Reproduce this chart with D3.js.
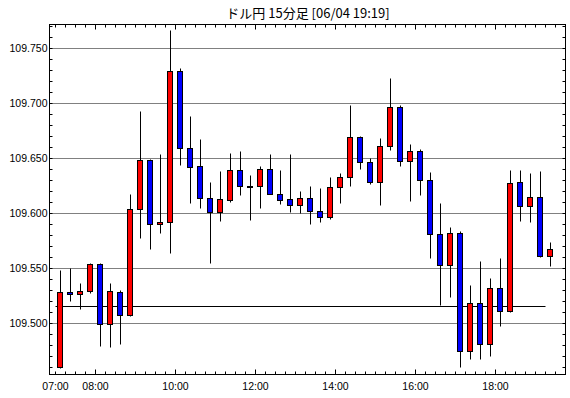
<!DOCTYPE html>
<html>
<head>
<meta charset="utf-8">
<script src="https://cdn.jsdelivr.net/npm/d3@7"></script>
<style>
html,body{margin:0;padding:0;background:#fff;}
svg{display:block;}
text{font-family:"Liberation Sans",Arial,sans-serif;}
</style>
</head>
<body>
<script>
const title = "ドル円 15分足 [06/04 19:19]";
const times = ["07:00","07:15","07:30","07:45","08:00","08:15","08:30","08:45","09:00","09:15",
"09:30","09:45","10:00","10:15","10:30","10:45","11:00","11:15","11:30","11:45",
"12:00","12:15","12:30","12:45","13:00","13:15","13:30","13:45","14:00","14:15",
"14:30","14:45","15:00","15:15","15:30","15:45","16:00","16:15","16:30","16:45",
"17:00","17:15","17:30","17:45","18:00","18:15","18:30","18:45","19:00","19:15"];
const opens = [109.460,109.528,109.526,109.529,109.554,109.499,109.528,109.507,109.604,109.648,
109.590,109.592,109.729,109.659,109.643,109.614,109.601,109.612,109.639,109.625,
109.625,109.640,109.617,109.613,109.607,109.614,109.602,109.596,109.624,109.633,
109.669,109.646,109.628,109.661,109.696,109.647,109.656,109.630,109.581,109.553,
109.582,109.475,109.518,109.481,109.532,109.511,109.628,109.606,109.615,109.561];
const highs = [109.548,109.550,109.536,109.555,109.555,109.536,109.530,109.617,109.693,109.649,
109.654,109.766,109.732,109.688,109.667,109.628,109.638,109.655,109.656,109.635,
109.643,109.654,109.639,109.654,109.620,109.625,109.623,109.633,109.636,109.698,
109.670,109.650,109.668,109.723,109.698,109.663,109.658,109.637,109.609,109.587,
109.584,109.535,109.556,109.541,109.559,109.639,109.639,109.636,109.638,109.574];
const lows = [109.459,109.520,109.513,109.527,109.479,109.478,109.481,109.506,109.577,109.567,
109.582,109.564,109.644,109.609,109.605,109.555,109.593,109.610,109.616,109.594,
109.605,109.617,109.608,109.601,109.600,109.590,109.592,109.595,109.609,109.625,
109.640,109.626,109.607,109.657,109.643,109.611,109.616,109.559,109.516,109.524,
109.460,109.467,109.467,109.470,109.497,109.510,109.593,109.592,109.560,109.552];
const closes = [109.528,109.526,109.529,109.554,109.499,109.529,109.507,109.604,109.648,109.590,
109.592,109.729,109.659,109.642,109.614,109.601,109.613,109.639,109.625,109.625,
109.640,109.617,109.612,109.607,109.614,109.602,109.596,109.624,109.633,109.669,
109.646,109.628,109.661,109.696,109.647,109.656,109.630,109.581,109.553,109.582,
109.475,109.518,109.481,109.532,109.511,109.627,109.606,109.615,109.561,109.567];
const refLevel = 109.5155;
const yTickLabels = [109.500,109.550,109.600,109.650,109.700,109.750];
const xTickLabels = ["07:00","08:00","10:00","12:00","14:00","16:00","18:00"];

const W = 570, H = 398;
const L = 49.5, R = 565.5, T = 24.5, B = 374.5;
const day = "2019-06-04T";
const parseT = s => new Date(day + s + ":00");

const x = d3.scaleTime().domain([parseT("06:51"), parseT("19:45")]).range([L, R]);
const y = d3.scaleLinear().domain([109.45364, 109.77182]).range([B, T]);
const sy = v => Math.round(y(v) - 0.5) + 0.5;
const sx = t => Math.round(x(t) - 0.5) + 0.5;

const svg = d3.select("body").append("svg").attr("width", W).attr("height", H);

// title
svg.append("text").attr("x", 308).attr("y", 18).attr("text-anchor", "middle")
  .style("font-family", '"Noto Sans CJK JP", sans-serif').style("font-size", "13px")
  .text(title);

// gridlines
svg.append("g").selectAll("line").data(yTickLabels).join("line")
  .attr("x1", L).attr("x2", R).attr("y1", d => sy(d)).attr("y2", d => sy(d))
  .attr("stroke", "#000").attr("stroke-width", 1).attr("stroke-dasharray", "1,1");

// y minor ticks (every 0.01)
const yTicks = d3.range(109460, 109771, 10).map(v => v / 1000);
const gy = svg.append("g");
gy.selectAll("line.l").data(yTicks).join("line").attr("class", "l")
  .attr("x1", L).attr("x2", L + 3).attr("y1", d => sy(d)).attr("y2", d => sy(d))
  .attr("stroke", "#000");
gy.selectAll("line.r").data(yTicks).join("line").attr("class", "r")
  .attr("x1", R - 3).attr("x2", R).attr("y1", d => sy(d)).attr("y2", d => sy(d))
  .attr("stroke", "#000");
gy.selectAll("text").data(yTickLabels).join("text")
  .attr("x", 47.5).attr("y", d => sy(d)).attr("dy", "0.35em").attr("text-anchor", "end")
  .style("font-size", "10.5px").text(d => d3.format(".3f")(d));

// x ticks every 15 min
const xTicks = d3.timeMinute.every(15).range(parseT("07:00"), parseT("19:45"));
const majors = new Set(xTickLabels.slice(1));
const isMajor = d => majors.has(d3.timeFormat("%H:%M")(d));
const gx = svg.append("g");
gx.selectAll("line.b").data(xTicks).join("line").attr("class", "b")
  .attr("x1", d => sx(d)).attr("x2", d => sx(d))
  .attr("y1", B).attr("y2", d => B - (isMajor(d) ? 5 : 3)).attr("stroke", "#000");
gx.selectAll("line.t").data(xTicks).join("line").attr("class", "t")
  .attr("x1", d => sx(d)).attr("x2", d => sx(d))
  .attr("y1", T).attr("y2", d => T + (isMajor(d) ? 5 : 3)).attr("stroke", "#000");
gx.selectAll("text").data(xTickLabels).join("text")
  .attr("x", d => sx(parseT(d))).attr("y", 389.5).attr("text-anchor", "middle")
  .style("font-size", "10.5px").text(d => d);

// reference line
svg.append("line")
  .attr("x1", sx(parseT("07:00"))).attr("x2", sx(parseT("19:15")))
  .attr("y1", sy(refLevel)).attr("y2", sy(refLevel))
  .attr("stroke", "#000").attr("stroke-width", 1);

// candles
const candles = times.map((t, i) => ({t: parseT(t), o: opens[i], h: highs[i], l: lows[i], c: closes[i]}));
const mid = d => sx(new Date(+d.t + 7.5 * 60000));
const cg = svg.append("g").selectAll("g").data(candles).join("g");
cg.append("line")
  .attr("x1", mid).attr("x2", mid)
  .attr("y1", d => sy(d.h)).attr("y2", d => sy(d.l))
  .attr("stroke", "#000").attr("stroke-width", 1);
cg.append("rect")
  .attr("x", d => mid(d) - 3)
  .attr("width", 5)
  .attr("y", d => sy(Math.max(d.o, d.c)))
  .attr("height", d => Math.max(1, sy(Math.min(d.o, d.c)) - sy(Math.max(d.o, d.c))))
  .attr("fill", d => d.c > d.o ? "#ff0000" : (d.c < d.o ? "#0000ff" : "#000"))
  .attr("stroke", "#000").attr("stroke-width", 1);

// frame
svg.append("rect").attr("x", L).attr("y", T).attr("width", R - L).attr("height", B - T)
  .attr("fill", "none").attr("stroke", "#000").attr("stroke-width", 1);
</script>
</body>
</html>
